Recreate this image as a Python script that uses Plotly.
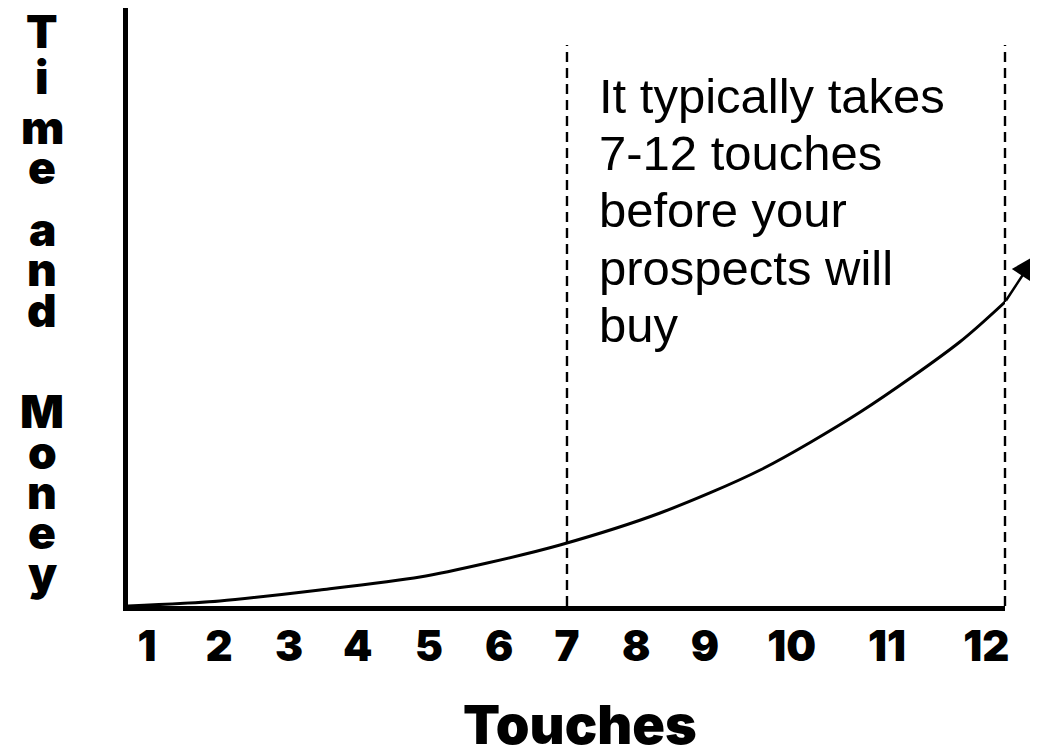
import plotly.graph_objects as go

# ---- data ----
touch_labels = ["1", "2", "3", "4", "5", "6", "7", "8", "9", "10", "11", "12"]
touch_label_pos = [1, 2.03, 3.03, 4.01, 5.03, 6.03, 7, 7.99, 8.97, 10.21, 11.57, 12.99]

curve_x = [0.729, 2.04, 3.47, 4.9, 5.86, 6.9, 8.33, 9.76, 11.19, 12.61, 13.257]
curve_y = [0.0, 0.84, 2.68, 4.85, 7.19, 10.2, 15.55, 22.74, 32.44, 44.15, 50.84]
arrow_tip = (13.7, 58.7)

note_lines = ["It typically takes", "7-12 touches", "before your", "prospects will", "buy"]
y_title_letters = ["T", "i", "m", "e", "a", "n", "d", "M", "o", "n", "e", "y"]
x_title = "Touches"

# ---- layout geometry (pixels; page has an 8px body margin) ----
OFF = 8
W, H = 1038 - OFF, 752 - OFF
L, R, T, B = 120, 33, 0, 146
PW, PH = W - L - R, H - T - B
XR = [0.729, 13.257]
YR = [0, 100]


def px2paper_x(rx):
    return (rx - OFF - L) / PW


def py2paper_y(ry):
    return (H - B - (ry - OFF)) / PH


HEAVY = "Inter, Roboto, 'DejaVu Sans', sans-serif"

fig = go.Figure()

fig.add_trace(go.Scatter(
    x=curve_x, y=curve_y, mode="lines",
    line=dict(color="black", width=3, shape="spline", smoothing=0.8),
    hoverinfo="skip", showlegend=False,
))

# arrow head continuing the curve beyond the plot edge
fig.add_annotation(
    x=arrow_tip[0], y=arrow_tip[1], ax=curve_x[-1], ay=curve_y[-1],
    xref="x", yref="y", axref="x", ayref="y",
    text="", showarrow=True, arrowhead=2, arrowsize=2, arrowwidth=2.5,
    arrowcolor="black",
)

# dashed reference lines
dash_top = 93.8
for xv, xref in [(7, "x"), (1, "paper")]:
    fig.add_shape(type="line", x0=xv, x1=xv, xref=xref, y0=0, y1=dash_top, yref="y",
                  line=dict(color="black", width=2.4, dash="10px,6px"))

# note text
note_baselines = [113, 170, 227, 285, 342]
for line, bl in zip(note_lines, note_baselines):
    fig.add_annotation(
        x=px2paper_x(597), y=py2paper_y(bl - 17), xref="paper", yref="paper",
        text=line, showarrow=False, xanchor="left", yanchor="middle",
        font=dict(family="'Liberation Sans', Arial, sans-serif", size=49, color="black"),
    )

# vertical y title letters
letter_centers = [31, 77, 127, 167, 229, 269, 310, 411, 452, 492, 532, 573]
for ch, cy in zip(y_title_letters, letter_centers):
    fig.add_annotation(
        x=px2paper_x(42), y=py2paper_y(cy), xref="paper", yref="paper",
        text=ch, showarrow=False, xanchor="center", yanchor="middle",
        font=dict(family=HEAVY, size=46, color="black", weight=900),
    )

# x title
fig.add_annotation(
    x=px2paper_x(580), y=py2paper_y(724), xref="paper", yref="paper",
    text=x_title, showarrow=False, xanchor="center", yanchor="middle",
    font=dict(family=HEAVY, size=54, color="black", weight=900),
)

fig.update_xaxes(
    range=XR, showgrid=False, zeroline=False,
    showline=True, linecolor="black", linewidth=5,
    tickmode="array", tickvals=touch_label_pos, ticktext=touch_labels,
    ticks="", ticklabelstandoff=0,
    tickfont=dict(family=HEAVY, size=42, color="black", weight=900),
)
fig.update_yaxes(
    range=YR, showgrid=False, zeroline=False,
    showline=True, linecolor="black", linewidth=5,
    showticklabels=False, ticks="",
)

fig.update_layout(
    width=W, height=H,
    margin=dict(l=L, r=R, t=T, b=B, pad=0),
    paper_bgcolor="white", plot_bgcolor="white",
    showlegend=False,
)

fig.write_html("out.html")
